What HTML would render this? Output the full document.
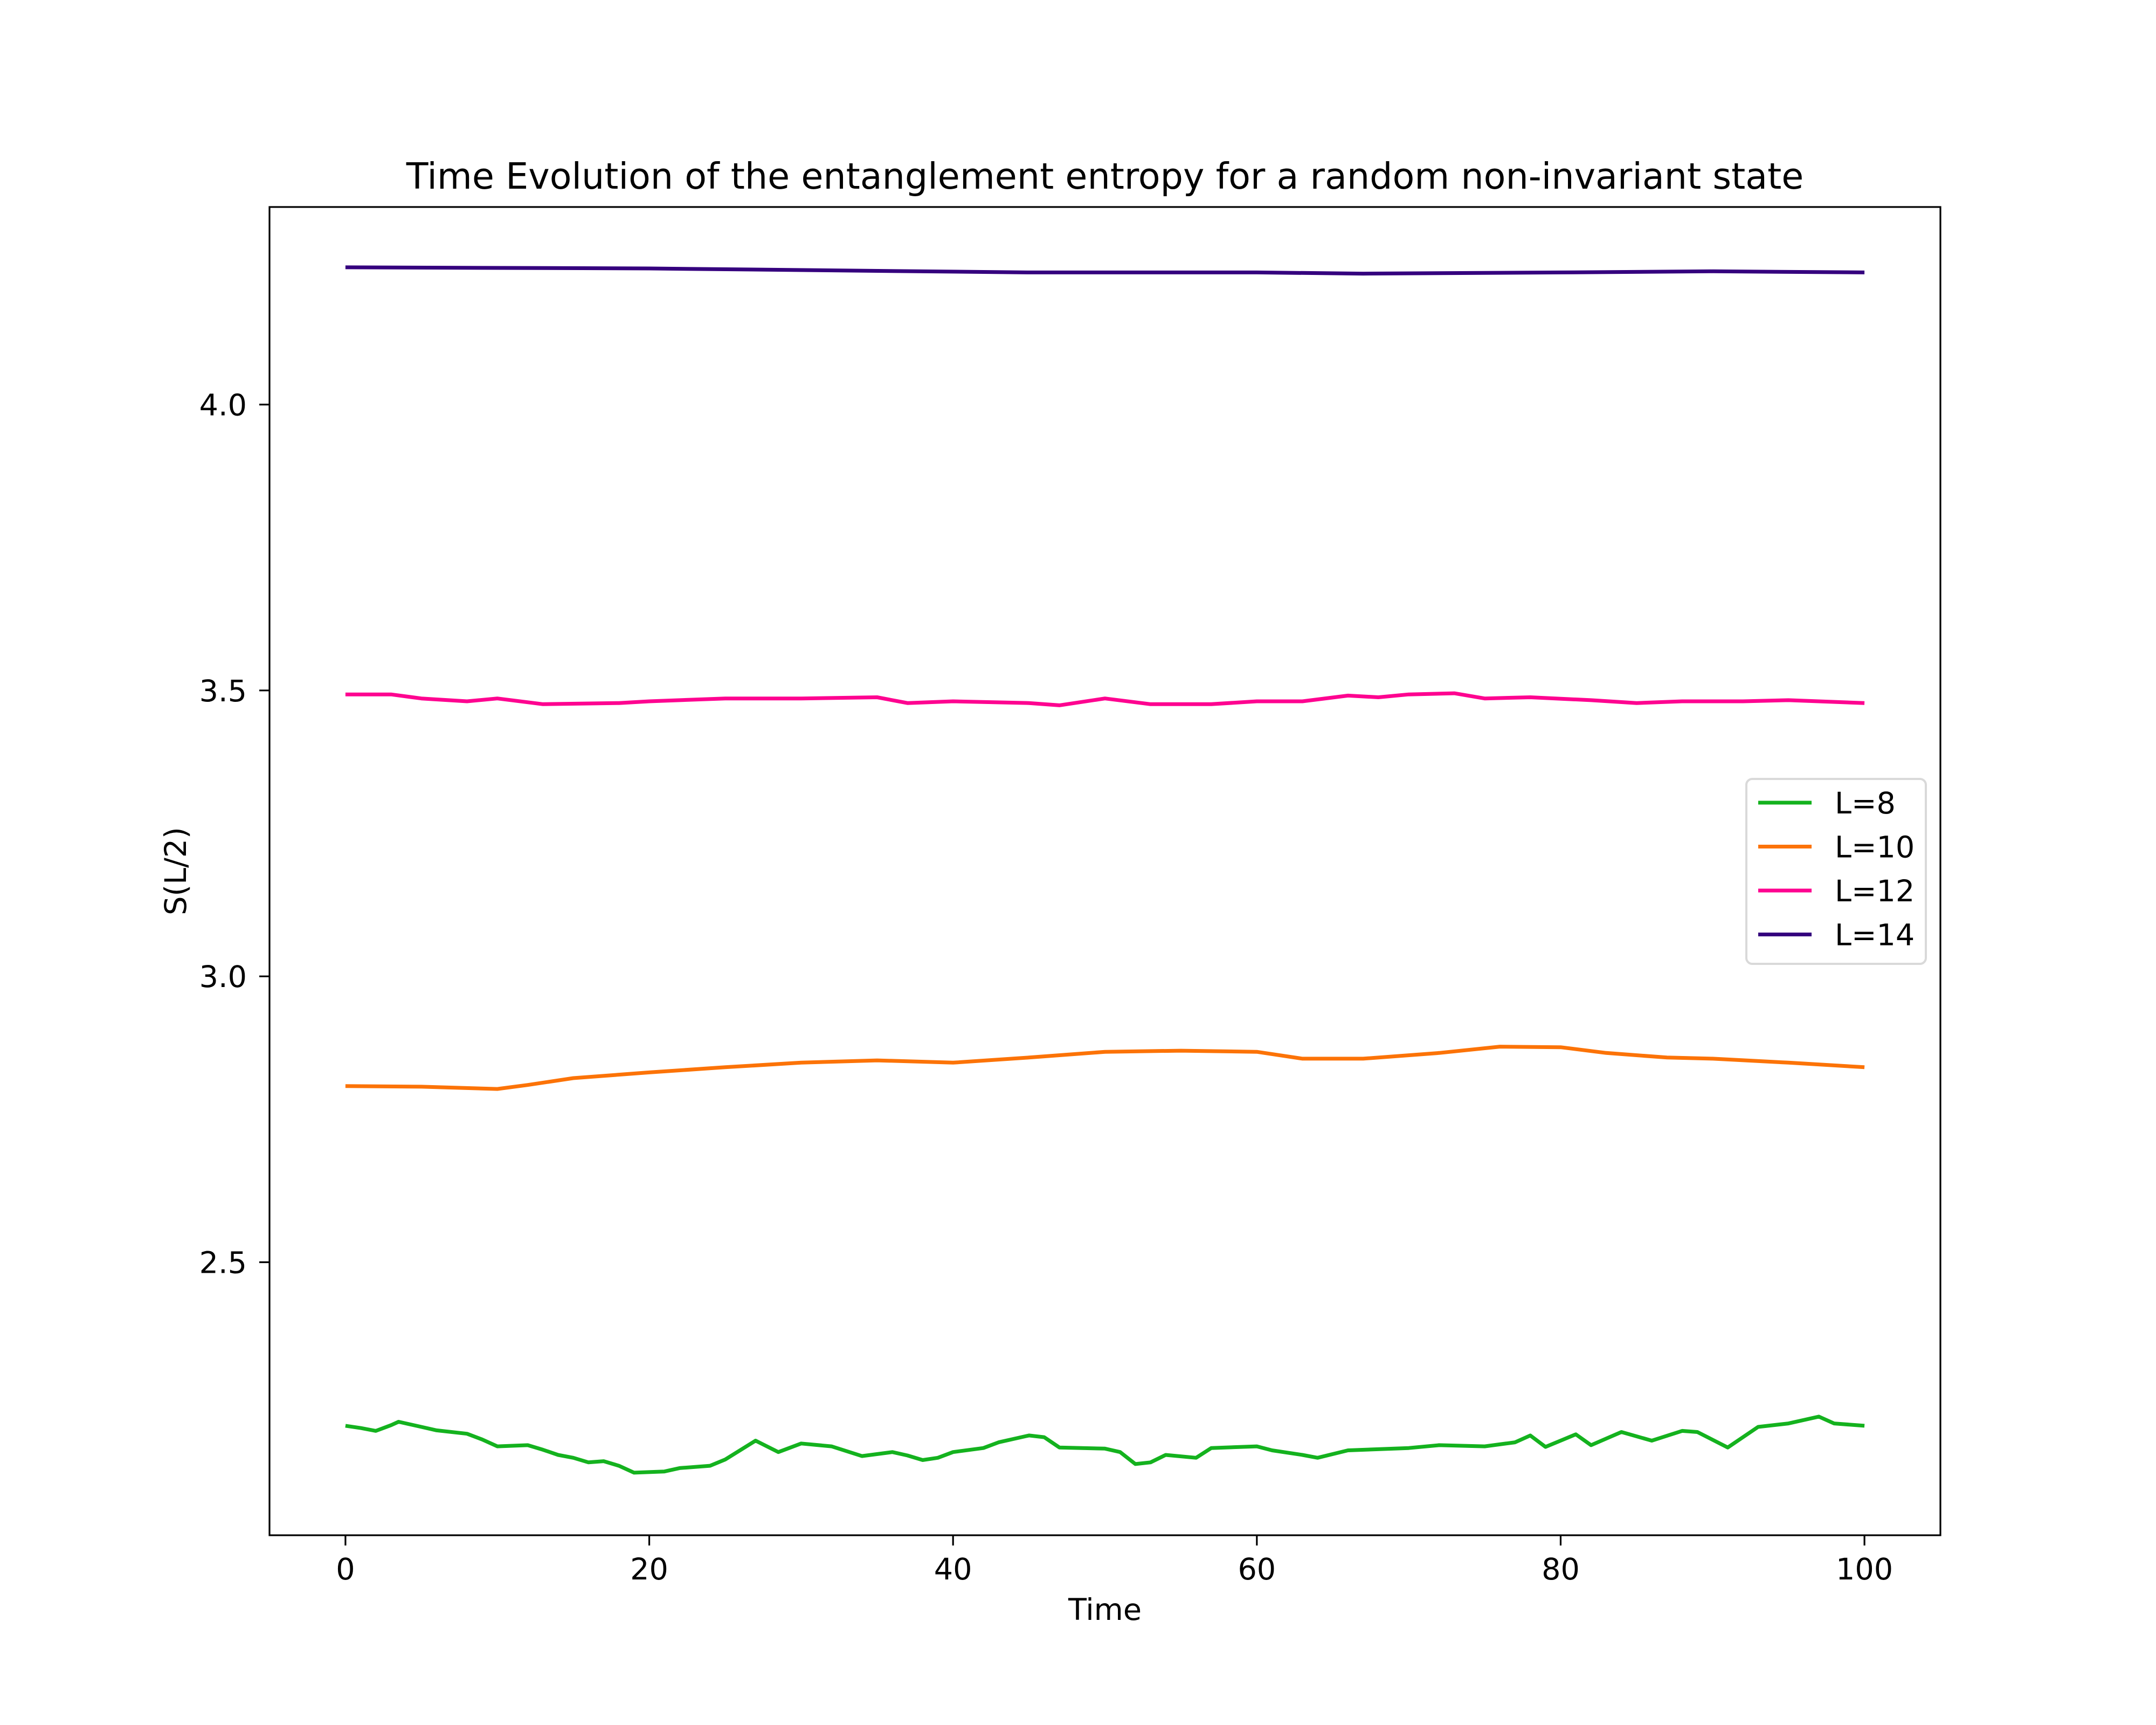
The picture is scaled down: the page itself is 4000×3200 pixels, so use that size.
<!DOCTYPE html>
<html><head><meta charset="utf-8"><style>body{margin:0;background:#fff}svg{display:block}</style></head>
<body>
<svg id="chart" width="4000" height="3200" xmlns="http://www.w3.org/2000/svg" font-family="'DejaVu Sans','Liberation Sans',sans-serif">
<rect width="4000" height="3200" fill="#fff"/>
<text x="2050" y="350" font-size="66.7" text-anchor="middle">Time Evolution of the entanglement entropy for a random non-invariant state</text>
<text x="2050" y="3005" font-size="55.6" text-anchor="middle">Time</text>
<text x="0" y="0" font-size="55.6" text-anchor="middle" transform="translate(345,1616) rotate(-90)">S(L/2)</text>
<g id="series"></g>
<g id="ticks"></g>
<rect x="500" y="384" width="3100" height="2464" fill="none" stroke="#000" stroke-width="3.2"/>
<g id="legend"></g>
</svg>
<script>
const xTicks=[0,20,40,60,80,100];
const yTicks=[2.5,3.0,3.5,4.0];
const yTickLabels=["2.5","3.0","3.5","4.0"];
const seriesNames=["L=8","L=10","L=12","L=14"];
const seriesColors=["#14b21e","#fc7307","#fe0390","#35007e"];
const t8=[0,1,2,3,3.5,5,6,8,9,10,12,13,14,15,16,17,18,19,21,22,24,25,27,28.5,30,32,34,36,37,38,39,40,42,43,45,46,47,50,51,52,53,54,56,57,60,61,63,64,66,70,72,75,77,78,79,81,82,84,86,88,89,91,93,95,97,98,100];
const v8=[2.214,2.210,2.205,2.215,2.221,2.212,2.206,2.200,2.190,2.178,2.180,2.172,2.163,2.158,2.150,2.152,2.144,2.132,2.134,2.140,2.144,2.155,2.188,2.168,2.183,2.178,2.161,2.168,2.162,2.154,2.158,2.168,2.175,2.185,2.197,2.194,2.176,2.174,2.168,2.147,2.150,2.163,2.158,2.175,2.178,2.171,2.163,2.158,2.171,2.175,2.180,2.178,2.185,2.197,2.177,2.199,2.180,2.203,2.188,2.205,2.203,2.176,2.212,2.218,2.230,2.218,2.214];
const t10=[0,5,10,12,15,20,25,30,35,40,45,50,55,60,63,67,72,76,80,83,87,90,95,100];
const v10=[2.808,2.807,2.803,2.810,2.822,2.832,2.841,2.849,2.853,2.849,2.858,2.868,2.870,2.868,2.856,2.856,2.866,2.877,2.876,2.866,2.858,2.856,2.849,2.841];
const t12=[0,3,5,8,10,13,18,20,25,30,35,37,40,45,47,50,53,57,60,63,66,68,70,73,75,78,82,85,88,92,95,100];
const v12=[3.493,3.493,3.486,3.481,3.486,3.476,3.478,3.481,3.486,3.486,3.488,3.478,3.481,3.478,3.474,3.486,3.476,3.476,3.481,3.481,3.491,3.488,3.493,3.495,3.486,3.488,3.483,3.478,3.481,3.481,3.483,3.478];
const t14=[0,20,45,60,67,80,90,100];
const v14=[4.240,4.238,4.231,4.231,4.229,4.231,4.233,4.231];
const seriesT=[t8,t10,t12,t14];
const seriesV=[v8,v10,v12,v14];
const NS="http://www.w3.org/2000/svg";
const X0=500,X1=3600,Y0=384,Y1=2848,xmin=-5,xmax=105,ymin=2.0225,ymax=4.3455;
function sx(v){return X0+(v-xmin)/(xmax-xmin)*(X1-X0);}
function sy(v){return Y1-(v-ymin)/(ymax-ymin)*(Y1-Y0);}
function mk(tag,attrs,parent){const e=document.createElementNS(NS,tag);for(const k in attrs)e.setAttribute(k,attrs[k]);parent.appendChild(e);return e;}
const gs=document.getElementById('series');
seriesT.forEach((ts,i)=>{
  const d=ts.map((t,j)=>(j?'L':'M')+sx(t).toFixed(1)+','+sy(seriesV[i][j]).toFixed(1)).join(' ');
  const p=mk('path',{d:d,fill:'none',stroke:seriesColors[i],'stroke-width':'7','stroke-linejoin':'round'},gs);
  
  
});
const gt=document.getElementById('ticks');
xTicks.forEach(v=>{
  const l=mk('line',{x1:sx(v),x2:sx(v),y1:Y1,y2:Y1+19,stroke:'#000','stroke-width':'3.2'},gt);
  
  
  const t=mk('text',{x:sx(v),y:Y1+82,'font-size':'55.6','text-anchor':'middle'},gt);
  t.textContent=String(v);
  
  
});
yTicks.forEach((v,i)=>{
  const l=mk('line',{x1:X0-19,x2:X0,y1:sy(v),y2:sy(v),stroke:'#000','stroke-width':'3.2'},gt);
  
  
  const t=mk('text',{x:X0-42,y:sy(v)+20,'font-size':'55.6','text-anchor':'end'},gt);
  t.textContent=yTickLabels[i];
  
  
});
const gl=document.getElementById('legend');
const box=mk('rect',{x:3240,y:1445,width:333,height:343,rx:11,fill:'#fff','fill-opacity':'0.8',stroke:'#d9d9d9','stroke-width':'4'},gl);


seriesNames.forEach((n,i)=>{
  const y=1489+i*81.5;
  const g=mk('g',{},gl);
  
  
  mk('line',{x1:3262,x2:3361,y1:y,y2:y,stroke:seriesColors[i],'stroke-width':'7'},g);
  const t=mk('text',{x:3404,y:y+20,'font-size':'55.6'},g);
  t.textContent=n;
});
</script>
</body></html>
